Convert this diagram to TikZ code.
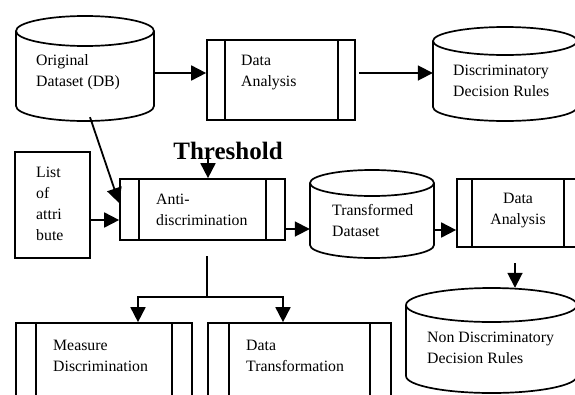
\documentclass[tikz,border=0pt]{standalone}
\usepackage{fontspec}
\setmainfont{Liberation Serif}
\usetikzlibrary{arrows.meta,fit}
\tikzset{
  lw/.style={line width=1.7pt},
  conn/.style={line width=1.8pt},
  arr/.style={conn, -{Triangle[length=15pt,width=15pt]}},
  txt/.style={inner sep=0pt, align=left, anchor=west, font=\fontsize{15.8}{21}\selectfont},
  frame/.style={draw, line width=1.7pt, inner sep=0pt},
  ghost/.style={inner sep=0pt},
}
\newcommand{\procbox}[7]{%
  \node[fit={(#2,#3) (#4,#5)}, frame] (#1) {};
  \draw[lw] ([xshift=#6pt]#1.north west) -- ([xshift=#6pt]#1.south west);
  \draw[lw] ([xshift=-#7pt]#1.north east) -- ([xshift=-#7pt]#1.south east);
}
\newcommand{\dbcyl}[6]{%
  \pgfmathsetmacro\myrx{(#3-#2)/2}
  \node[fit={(#2,{#4-#6}) (#3,{#5+#6})}, ghost] (#1) {};
  \draw[lw] (#2,#4) -- (#2,#5) arc[start angle=180,end angle=360,x radius=\myrx pt,y radius=#6 pt] -- (#3,#4);
  \draw[lw] ({(#2+#3)/2},#4) ellipse [x radius=\myrx pt, y radius=#6 pt];
}
\begin{document}
\begin{tikzpicture}[x=1pt,y=-1pt]
\useasboundingbox (0,0) rectangle (575,394);
\clip (0,0) rectangle (575,394);
\fill[white] (0,0) rectangle (575,394);
% shapes
\dbcyl{orig}{16}{154}{31}{106}{15}
\procbox{da1}{207}{40}{355}{120}{19}{18}
\dbcyl{disc}{433}{577}{41}{107}{14}
\node[fit={(15,152) (90,258)}, frame] (list) {};
\procbox{anti}{120}{179}{285}{240}{20}{20}
\dbcyl{trans}{310}{434}{183}{245}{13}
\procbox{da2}{457}{179}{580}{247}{16}{17}
\dbcyl{nondisc}{406}{577}{305}{376}{17}
\procbox{meas}{16}{323}{192}{420}{21}{21}
\procbox{dtr}{208}{323}{391}{420}{22}{22}
% texts
\node[txt] (torig) at (36,72.5) {Original\\Dataset (DB)};
\node[txt] (tda1) at (241,72.5) {Data\\Analysis};
\node[txt] (tdisc) at (453,80.5) {Discriminatory\\Decision Rules};
\node[txt] (tlist) at (36,204) {List\\of\\attri\\bute};
\node[txt] (tanti) at (156,210) {Anti-\\discrimination};
\node[txt] (ttrans) at (332,221) {Transformed\\Dataset};
\node[txt, anchor=center, align=center] (tda2) at (518,210.5) {Data\\Analysis};
\node[txt] (tnon) at (427,347.5) {Non Discriminatory\\Decision Rules};
\node[txt] (tmeas) at (53,356) {Measure\\Discrimination};
\node[txt] (tdtr) at (246,356) {Data\\Transformation};
\node[inner sep=0pt, anchor=base, font=\fontsize{25}{30}\selectfont\bfseries] (thr) at (228,159) {Threshold};
% connectors
\draw[arr] ([yshift=-4.5pt]orig.east) -- ([yshift=-4.5pt]orig.east -| da1.west);
\draw[arr] ([xshift=3pt,yshift=7pt]da1.east) -- ([yshift=7pt]da1.east -| disc.west);
\draw[arr] ([xshift=5pt,yshift=4pt]orig.south) -- ([yshift=6.5pt]anti.west);
\draw[arr] ([yshift=-15pt]list.east) -- ([yshift=-15pt]list.east -| anti.west);
\coordinate (thrarrow) at (208,151);
\draw[arr] (thrarrow) -- (thrarrow |- anti.north);
\draw[arr] ([yshift=-19.5pt]anti.east) -- ([yshift=-19.5pt]anti.east -| trans.west);
\draw[arr] ([yshift=-16pt]trans.east) -- ([yshift=-16pt]trans.east -| da2.west);
\coordinate (da2out) at (515,263);
\draw[arr] (da2out) -- (da2out |- nondisc.north);
\coordinate (split) at (207,256);
\coordinate (junc) at (207,297);
\draw[conn] (split) -- (junc);
\draw[arr] (junc) -| ([xshift=34pt]meas.north);
\draw[arr] (junc) -| ([xshift=-16.5pt]dtr.north);
\end{tikzpicture}
\end{document}
